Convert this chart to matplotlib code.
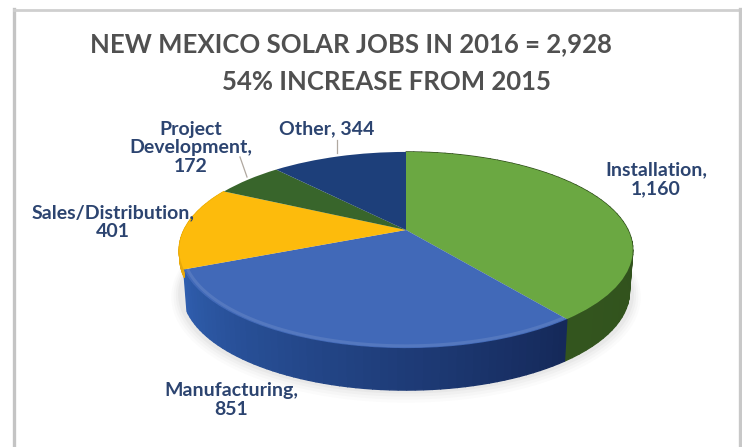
import matplotlib as mpl
mpl.use('Agg')
import numpy as np
import matplotlib.pyplot as plt
from matplotlib.colors import to_rgb
from matplotlib.transforms import Transform

categories = ["Installation", "Manufacturing", "Sales/Distribution", "Project\nDevelopment", "Other"]
jobs = [1160, 851, 401, 172, 344]
colors = ["#6ba842", "#4169b8", "#fdbb0c", "#38652b", "#1d3f7a"]
# side wall colour at the two ends of each slice
side_start = ["#33551e", "#2f5eae", "#f0b000", "#2b4a1c", "#16305f"]
side_end = ["#2e4c1a", "#15295a", "#e8a80a", "#2b4a1c", "#16305f"]
title_lines = ["NEW MEXICO SOLAR JOBS IN 2016 = 2,928", "54% INCREASE FROM 2015"]

plt.rcParams['font.family'] = ['Lato', 'DejaVu Sans']

# perspective of the tilted pie, in image pixels
cx, cy = 406, 230
a, b, k = 222, 94, 0.204
depth = 42
wall_drop = [depth, depth, 8, 0, 0]  # the yellow slice only shows a sliver of wall


def project(u, v, drop=0):
    den = 1 + k * v
    return cx + a * u / den, cy - b * v / den + drop


class PieProjection(Transform):
    input_dims = 2
    output_dims = 2
    has_inverse = False

    def transform_non_affine(self, values):
        x, y = project(values[:, 0], values[:, 1])
        return np.column_stack([x, y])


fig = plt.figure(figsize=(7.42, 4.47), dpi=100)
ax = fig.add_axes([0, 0, 1, 1])
wedges, _ = ax.pie(jobs, colors=colors, startangle=90, counterclock=False, radius=1.0)

ax.set_aspect('auto')
ax.set_xlim(0, 742)
ax.set_ylim(447, 0)
ax.axis('off')

proj = PieProjection() + ax.transData
for w in wedges:
    w.set_transform(proj)
    w.set_linewidth(0)
    w.set_zorder(3)

# soft shadow under the pie
t = np.linspace(0, 2 * np.pi, 200)
for grow, alpha in zip([7, 5, 3, 1], [0.03, 0.04, 0.05, 0.07]):
    sx, sy = project((1 + grow / 220) * np.cos(t), (1 + grow / 100) * np.sin(t), depth + 2)
    ax.fill(sx, sy, color='#8a8a8a', alpha=alpha, lw=0, zorder=1)

# side wall in short steps so it can shade along the rim
for w, c0, c1, drop in zip(wedges, side_start, side_end, wall_drop):
    if drop == 0:
        continue
    th = np.radians(np.linspace(w.theta1, w.theta2, 60))
    c0, c1 = np.array(to_rgb(c0)), np.array(to_rgb(c1))
    x0, y0 = project(np.cos(th), np.sin(th))
    x1, y1 = project(np.cos(th), np.sin(th), drop)
    x1 = cx + (x1 - cx) * (1 - 0.015 * drop / depth)
    for i in range(len(th) - 1):
        f = i / (len(th) - 2)
        ax.fill([x0[i], x0[i + 1], x1[i + 1], x1[i]], [y0[i], y0[i + 1], y1[i + 1], y1[i]],
                color=c0 + (c1 - c0) * f, lw=1.0, zorder=2)

# lighter bevel along the front rim of the blue slice
th = np.radians(np.linspace(wedges[1].theta1, wedges[1].theta2, 80))
bx, by = project(0.985 * np.cos(th), 0.985 * np.sin(th))
ax.plot(bx, by, color='white', alpha=0.1, lw=2.2, zorder=4, solid_capstyle='butt')

# frame, open on the bottom like the crop it came from
ax.plot([14, 14], [447, 9], color='#c4c4c4', lw=2.4, zorder=0)
ax.plot([14, 740], [10, 10], color='#cfcfcf', lw=2.0, zorder=0)
ax.plot([740, 740], [9, 447], color='#c8c8c8', lw=2.4, zorder=0)

for i, line in enumerate(title_lines):
    ax.text([351, 386.5][i], [44, 82][i], line, ha='center', va='center',
            fontsize=18.5, fontweight='bold', color='#505050')

lab = dict(ha='center', va='center', fontsize=14, fontweight='bold',
           color='#2c4470', linespacing=1.12)
ax.text(656, 179, "%s,\n%s" % (categories[0], format(jobs[0], ',')), **lab)
ax.text(231, 400, "%s,\n%s" % (categories[1], format(jobs[1], ',')), **lab)
ax.text(113, 222, "%s,\n%s" % (categories[2], format(jobs[2], ',')), **lab)
ax.text(191, 148, "%s,\n%s" % (categories[3], format(jobs[3], ',')), **lab)
ax.text(327, 129, "%s, %s" % (categories[4], format(jobs[4], ',')), **lab)

# leader lines
ax.plot([337, 337], [140, 153], color='#b0a8a0', lw=0.9, zorder=2)
ax.plot([240, 247], [157, 177], color='#b0a8a0', lw=0.9, zorder=2)

fig.savefig('out.png', dpi=100, facecolor='white')
